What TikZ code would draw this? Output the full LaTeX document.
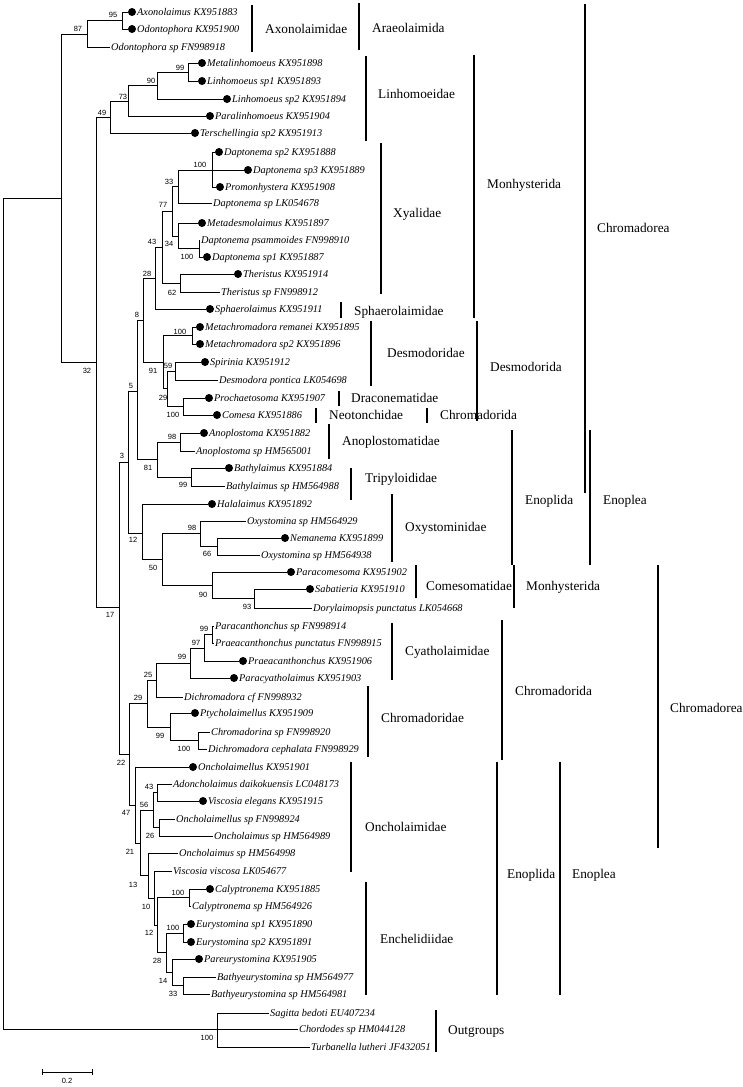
\documentclass[tikz,border=0pt]{standalone}
\usepackage{fontspec}
\setmainfont{Liberation Serif}
\newfontfamily\bsfont{Liberation Sans}
\newcommand\tip[5]{%
  \coordinate (#1) at (#3,#4);
  \draw[br] (#2) |- (#1);
  \node[taxon,anchor=base west] at ([xshift=1pt,yshift=-3.5pt]#1) {#5};}
\newcommand\dtip[5]{%
  \node[dot] (#1) at (#3,#4) {};
  \draw[br] (#2) |- (#1);
  \node[taxon,anchor=base west] at ([xshift=5pt,yshift=-3.5pt]#1) {#5};}
\newcommand\grp[6]{%
  \draw[bar] (#1,#2) -- (#1,#3);
  \node[fam,anchor=base west] at ([yshift=-4.4pt]#4,#5) {#6};}
\newcommand\bsv[3]{\node[bs] at (#1,#2) {#3};}
\begin{document}
\begin{tikzpicture}[x=1pt,y=-1pt,
  br/.style={line width=1pt},
  bar/.style={line width=2pt},
  dot/.style={circle,fill=black,inner sep=0pt,minimum size=8pt},
  taxon/.style={inner sep=0pt,font=\fontsize{10.3}{12}\selectfont\itshape},
  fam/.style={inner sep=0pt,font=\fontsize{13.3}{15}\selectfont},
  bs/.style={inner sep=0pt,font=\bsfont\fontsize{7.5}{9}\selectfont}]
\useasboundingbox (0,0) rectangle (743,1087);
% internal nodes
\coordinate (root) at (3,613.5);
\coordinate (nA) at (61,198);
\coordinate (nOut) at (217,1029);
\coordinate (n87) at (87,34);
\coordinate (n95) at (122,20.5);
\coordinate (n32) at (96,362);
\coordinate (n49) at (110,117);
\coordinate (n73) at (128,101);
\coordinate (n90) at (157,85.5);
\coordinate (n99) at (188,72);
\coordinate (n17) at (119,607);
\coordinate (n3) at (128,462);
\coordinate (n5) at (137,391);
\coordinate (n8) at (143,320);
\coordinate (n28) at (155,278);
\coordinate (n43) at (162,247);
\coordinate (n77) at (172,211);
\coordinate (n33) at (178,186.5);
\coordinate (n100a) at (212,170);
\coordinate (n34) at (178,236);
\coordinate (n100b) at (199,248.5);
\coordinate (n62) at (180,283);
\coordinate (n91) at (163,362);
\coordinate (n100c) at (192,335.5);
\coordinate (n29) at (167,388.5);
\coordinate (n59) at (175,371);
\coordinate (n100d) at (183,406.5);
\coordinate (n81) at (157,459.5);
\coordinate (n98a) at (180,442);
\coordinate (n99b) at (191,477);
\coordinate (n12) at (142,533);
\coordinate (n50) at (162,559);
\coordinate (n98b) at (200,533.5);
\coordinate (n66) at (217,546);
\coordinate (n90b) at (212,585);
\coordinate (n93) at (254,598.5);
\coordinate (n22) at (129,754);
\coordinate (n29b) at (147,703.5);
\coordinate (n25) at (156,680);
\coordinate (n99d) at (190,663);
\coordinate (n97) at (204,648);
\coordinate (n99e) at (212,634.5);
\coordinate (n99c) at (170,727);
\coordinate (n100g) at (198,740.5);
\coordinate (n47) at (135,805);
\coordinate (n21) at (140,843);
\coordinate (n56) at (153,810);
\coordinate (n43b) at (157,792.5);
\coordinate (n26) at (159,827.5);
\coordinate (n13) at (148,875.5);
\coordinate (n10) at (154,898);
\coordinate (n12b) at (157,925);
\coordinate (n100e) at (189,897.5);
\coordinate (n28b) at (166,952.5);
\coordinate (n100f) at (183,933);
\coordinate (n14) at (172,972);
\coordinate (n33b) at (183,985.5);
% internal edges
\draw[br] (root) |- (nA);
\draw[br] (root) |- (nOut);
\draw[br] (nA) |- (n87);
\draw[br] (nA) |- (n32);
\draw[br] (n87) |- (n95);
\draw[br] (n32) |- (n49);
\draw[br] (n32) |- (n17);
\draw[br] (n49) |- (n73);
\draw[br] (n73) |- (n90);
\draw[br] (n90) |- (n99);
\draw[br] (n17) |- (n3);
\draw[br] (n17) |- (n22);
\draw[br] (n3) |- (n5);
\draw[br] (n3) |- (n12);
\draw[br] (n5) |- (n8);
\draw[br] (n5) |- (n81);
\draw[br] (n8) |- (n28);
\draw[br] (n8) |- (n91);
\draw[br] (n28) |- (n43);
\draw[br] (n43) |- (n77);
\draw[br] (n43) |- (n62);
\draw[br] (n77) |- (n33);
\draw[br] (n77) |- (n34);
\draw[br] (n33) |- (n100a);
\draw[br] (n34) |- (n100b);
\draw[br] (n91) |- (n100c);
\draw[br] (n91) |- (n29);
\draw[br] (n29) |- (n59);
\draw[br] (n29) |- (n100d);
\draw[br] (n81) |- (n98a);
\draw[br] (n81) |- (n99b);
\draw[br] (n12) |- (n50);
\draw[br] (n50) |- (n98b);
\draw[br] (n50) |- (n90b);
\draw[br] (n98b) |- (n66);
\draw[br] (n90b) |- (n93);
\draw[br] (n22) |- (n29b);
\draw[br] (n22) |- (n47);
\draw[br] (n29b) |- (n25);
\draw[br] (n29b) |- (n99c);
\draw[br] (n25) |- (n99d);
\draw[br] (n99d) |- (n97);
\draw[br] (n97) |- (n99e);
\draw[br] (n99c) |- (n100g);
\draw[br] (n47) |- (n21);
\draw[br] (n21) |- (n56);
\draw[br] (n21) |- (n13);
\draw[br] (n56) |- (n43b);
\draw[br] (n56) |- (n26);
\draw[br] (n13) |- (n10);
\draw[br] (n10) |- (n12b);
\draw[br] (n12b) |- (n100e);
\draw[br] (n12b) |- (n28b);
\draw[br] (n28b) |- (n100f);
\draw[br] (n28b) |- (n14);
\draw[br] (n14) |- (n33b);
% leaves
\dtip{t1}{n95}{132}{12}{Axonolaimus KX951883}
\dtip{t2}{n95}{132}{29}{Odontophora KX951900}
\tip{t3}{n87}{110}{47}{Odontophora sp FN998918}
\dtip{t4}{n99}{202}{63}{Metalinhomoeus KX951898}
\dtip{t5}{n99}{202}{81}{Linhomoeus sp1 KX951893}
\dtip{t6}{n90}{227}{99}{Linhomoeus sp2 KX951894}
\dtip{t7}{n73}{210}{116}{Paralinhomoeus KX951904}
\dtip{t8}{n49}{195}{133}{Terschellingia sp2 KX951913}
\dtip{t9}{n100a}{219}{152}{Daptonema sp2 KX951888}
\dtip{t10}{n100a}{248}{170}{Daptonema sp3 KX951889}
\dtip{t11}{n100a}{220}{187}{Promonhystera KX951908}
\tip{t12}{n33}{212}{203}{Daptonema sp LK054678}
\dtip{t13}{n34}{202}{223}{Metadesmolaimus KX951897}
\tip{t14}{n100b}{200}{240}{Daptonema psammoides FN998910}
\dtip{t15}{n100b}{207}{257}{Daptonema sp1 KX951887}
\dtip{t16}{n62}{238}{274}{Theristus KX951914}
\tip{t17}{n62}{220}{292}{Theristus sp FN998912}
\dtip{t18}{n28}{210}{309}{Sphaerolaimus KX951911}
\dtip{t19}{n100c}{200}{327}{Metachromadora remanei KX951895}
\dtip{t20}{n100c}{200}{344}{Metachromadora sp2 KX951896}
\dtip{t21}{n59}{205}{362}{Spirinia KX951912}
\tip{t22}{n59}{218}{380}{Desmodora pontica LK054698}
\dtip{t23}{n100d}{209}{398}{Prochaetosoma KX951907}
\dtip{t24}{n100d}{217}{415}{Comesa KX951886}
\dtip{t25}{n98a}{204}{433}{Anoplostoma KX951882}
\tip{t26}{n98a}{195}{451}{Anoplostoma sp HM565001}
\dtip{t27}{n99b}{229}{468}{Bathylaimus KX951884}
\tip{t28}{n99b}{225}{486}{Bathylaimus sp HM564988}
\dtip{t29}{n12}{212}{504}{Halalaimus KX951892}
\tip{t30}{n98b}{246}{521}{Oxystomina sp HM564929}
\dtip{t31}{n66}{285}{538}{Nemanema KX951899}
\tip{t32}{n66}{260}{555}{Oxystomina sp HM564938}
\dtip{t33}{n90b}{291}{572}{Paracomesoma KX951902}
\dtip{t34}{n93}{310}{589}{Sabatieria KX951910}
\tip{t35}{n93}{312}{608}{Dorylaimopsis punctatus LK054668}
\tip{t36}{n99e}{214}{626}{Paracanthonchus sp FN998914}
\tip{t37}{n99e}{214}{643}{Praeacanthonchus punctatus FN998915}
\dtip{t38}{n97}{243}{661}{Praeacanthonchus KX951906}
\dtip{t39}{n99d}{234}{678}{Paracyatholaimus KX951903}
\tip{t40}{n25}{183}{697}{Dichromadora cf FN998932}
\dtip{t41}{n99c}{195}{713}{Ptycholaimellus KX951909}
\tip{t42}{n100g}{210}{732}{Chromadorina sp FN998920}
\tip{t43}{n100g}{207}{749}{Dichromadora cephalata FN998929}
\dtip{t44}{n47}{193}{767}{Oncholaimellus KX951901}
\tip{t45}{n43b}{172}{784}{Adoncholaimus daikokuensis LC048173}
\dtip{t46}{n43b}{203}{801}{Viscosia elegans KX951915}
\tip{t47}{n26}{175}{819}{Oncholaimellus sp FN998924}
\tip{t48}{n26}{213}{836}{Oncholaimus sp HM564989}
\tip{t49}{n13}{178}{853}{Oncholaimus sp HM564998}
\tip{t50}{n10}{172}{871}{Viscosia viscosa LK054677}
\dtip{t51}{n100e}{210}{889}{Calyptronema KX951885}
\tip{t52}{n100e}{191}{906}{Calyptronema sp HM564926}
\dtip{t53}{n100f}{191}{924}{Eurystomina sp1 KX951890}
\dtip{t54}{n100f}{191}{942}{Eurystomina sp2 KX951891}
\dtip{t55}{n14}{199}{959}{Pareurystomina KX951905}
\tip{t56}{n33b}{216}{977}{Bathyeurystomina sp HM564977}
\tip{t57}{n33b}{210}{994}{Bathyeurystomina sp HM564981}
\tip{t58}{nOut}{269}{1013}{Sagitta bedoti EU407234}
\tip{t59}{nOut}{298}{1029}{Chordodes sp HM044128}
\tip{t60}{nOut}{310}{1047}{Turbanella lutheri JF432051}
% bootstrap values
\bsv{113}{15}{95}
\bsv{78}{29}{87}
\bsv{180}{68}{99}
\bsv{151}{81}{90}
\bsv{123}{97}{73}
\bsv{102}{113}{49}
\bsv{200}{165}{100}
\bsv{169}{182}{33}
\bsv{163}{205}{77}
\bsv{152}{242}{43}
\bsv{169}{244}{34}
\bsv{187}{257}{100}
\bsv{147}{274}{28}
\bsv{172}{293}{62}
\bsv{137}{315}{8}
\bsv{180}{332}{100}
\bsv{153}{371}{91}
\bsv{168}{366}{59}
\bsv{163}{398}{29}
\bsv{131}{386}{5}
\bsv{173}{415}{100}
\bsv{172}{437}{98}
\bsv{148}{468}{81}
\bsv{183}{485}{99}
\bsv{122}{456}{3}
\bsv{133}{540}{12}
\bsv{192}{528}{98}
\bsv{207}{554}{66}
\bsv{153}{568}{50}
\bsv{203}{595}{90}
\bsv{247}{607}{93}
\bsv{110}{615}{17}
\bsv{87}{371}{32}
\bsv{204}{629}{99}
\bsv{196}{643}{97}
\bsv{182}{657}{99}
\bsv{148}{675}{25}
\bsv{138}{698}{29}
\bsv{160}{736}{99}
\bsv{184}{749}{100}
\bsv{121}{763}{22}
\bsv{149}{787}{43}
\bsv{144}{805}{56}
\bsv{126}{813}{47}
\bsv{150}{836}{26}
\bsv{130}{852}{21}
\bsv{133}{885}{13}
\bsv{178}{893}{100}
\bsv{146}{907}{10}
\bsv{173}{928}{100}
\bsv{149}{933}{12}
\bsv{157}{961}{28}
\bsv{163}{981}{14}
\bsv{173}{994}{33}
\bsv{207}{1038}{100}
% groups
\grp{252}{5}{52}{265}{29}{Axonolaimidae}
\grp{359}{3}{50}{372}{28}{Araeolaimida}
\grp{366}{56}{141}{378}{94}{Linhomoeidae}
\grp{381}{143}{294}{393}{213}{Xyalidae}
\grp{474}{55}{318}{487}{184}{Monhysterida}
\grp{585}{4}{493}{597}{228}{Chromadorea}
\grp{341}{302}{318}{354}{311}{Sphaerolaimidae}
\grp{371}{321}{386}{387}{353}{Desmodoridae}
\grp{477}{321}{421}{490}{367}{Desmodorida}
\grp{339}{391}{406}{351}{398}{Draconematidae}
\grp{316}{408}{423}{329}{415}{Neotonchidae}
\grp{427}{408}{423}{440}{415}{Chromadorida}
\grp{329}{424}{459}{342}{441}{Anoplostomatidae}
\grp{351}{468}{500}{365}{478}{Tripyloididae}
\grp{392}{494}{562}{405}{527}{Oxystominidae}
\grp{512}{430}{565}{525}{500}{Enoplida}
\grp{590}{430}{565}{603}{500}{Enoplea}
\grp{416}{565}{598}{426}{586}{Comesomatidae}
\grp{514}{565}{608}{526}{586}{Monhysterida}
\grp{658}{565}{848}{670}{708}{Chromadorea}
\grp{392}{623}{680}{405}{651}{Cyatholaimidae}
\grp{368}{686}{757}{381}{718}{Chromadoridae}
\grp{502}{620}{760}{515}{691}{Chromadorida}
\grp{351}{762}{872}{365}{827}{Oncholaimidae}
\grp{366}{882}{995}{380}{939}{Enchelidiidae}
\grp{497}{762}{995}{507}{874}{Enoplida}
\grp{560}{762}{995}{572}{874}{Enoplea}
\grp{436}{1010}{1052}{448}{1030}{Outgroups}
% scale bar
\coordinate (sbL) at (42,1072);
\coordinate (sbR) at (92,1072);
\draw[br] (sbL) -- (sbR);
\draw[br] ([yshift=3pt]sbL) -- ([yshift=-3pt]sbL);
\draw[br] ([yshift=3pt]sbR) -- ([yshift=-3pt]sbR);
\node[bs] at (67,1081) {0.2};
\end{tikzpicture}
\end{document}
